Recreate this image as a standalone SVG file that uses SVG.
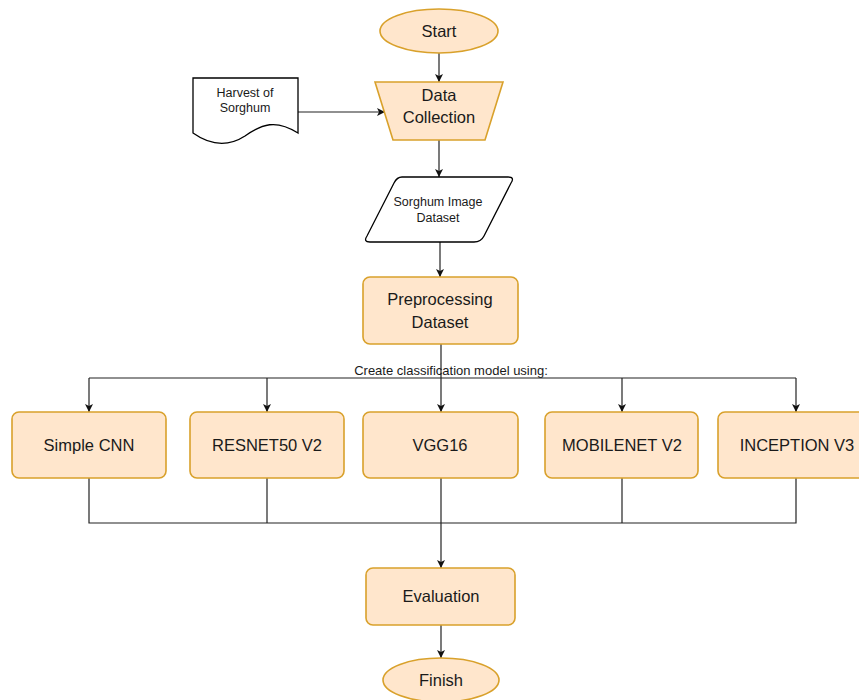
<svg xmlns="http://www.w3.org/2000/svg" width="859" height="700" viewBox="0 0 859 700">
<style>
.n{fill:#ffe6cc;stroke:#d9a12b;stroke-width:1.6}
.w{fill:#ffffff;stroke:#000000;stroke-width:1.3}
.t{font-family:"Liberation Sans",Arial,sans-serif;font-size:16.5px;fill:#1a1a1a;text-anchor:middle}
.s{font-family:"Liberation Sans",Arial,sans-serif;font-size:12.5px;fill:#1a1a1a;text-anchor:middle}
.c{fill:none;stroke:#222222;stroke-width:1.2}
</style>
<defs>
<marker id="a" viewBox="0 0 10 10" refX="10" refY="5" markerWidth="8" markerHeight="8" markerUnits="userSpaceOnUse" orient="auto">
<path d="M0,0 L10,5 L0,10 L2.5,5 Z" fill="#111111"/>
</marker>
</defs>
<rect width="859" height="700" fill="#ffffff"/>
<g id="connectors">
<path class="c" d="M439,53 V82" marker-end="url(#a)"/>
<path class="c" d="M298,112 H385" marker-end="url(#a)"/>
<path class="c" d="M439,140 V177" marker-end="url(#a)"/>
<path class="c" d="M440,242 V277" marker-end="url(#a)"/>
<path class="c" d="M441,344 V412" marker-end="url(#a)"/>
<path class="c" d="M89,378 H796"/>
<path class="c" d="M89,378 V412" marker-end="url(#a)"/>
<path class="c" d="M267,378 V412" marker-end="url(#a)"/>
<path class="c" d="M622,378 V412" marker-end="url(#a)"/>
<path class="c" d="M796,378 V412" marker-end="url(#a)"/>
<path class="c" d="M89,478 V523 H796 V478"/>
<path class="c" d="M267,478 V523"/>
<path class="c" d="M622,478 V523"/>
<path class="c" d="M441,478 V568" marker-end="url(#a)"/>
<path class="c" d="M441,625 V658" marker-end="url(#a)"/>
<text x="451" y="375" style="font-family:'Liberation Sans',Arial,sans-serif;font-size:13px;fill:#1a1a1a;text-anchor:middle">Create classification model using:</text>
</g>
<g id="start">
<ellipse class="n" cx="439" cy="31" rx="59" ry="22"/>
<text class="t" x="439" y="37">Start</text>
</g>
<g id="harvest">
<path class="w" d="M193,78 H298 V133 C276,119 262,124 245,136 C228,147 210,145 193,133 Z"/>
<text class="s" x="245" y="97">Harvest of</text>
<text class="s" x="245" y="112">Sorghum</text>
</g>
<g id="datacollection">
<path class="n" d="M375,82 H503 L485,140 H393 Z"/>
<text class="t" x="439" y="101">Data</text>
<text class="t" x="439" y="123">Collection</text>
</g>
<g id="dataset">
<path class="w" d="M402,177 H508 Q515,177 511,183 L484,236 Q481,242 474,242 H370 Q363,242 367,236 L394,183 Q397,177 402,177 Z"/>
<text class="s" x="438" y="206">Sorghum Image</text>
<text class="s" x="438" y="222">Dataset</text>
</g>
<g id="preprocessing">
<rect class="n" x="363" y="277" width="155" height="67" rx="7"/>
<text class="t" x="440" y="305">Preprocessing</text>
<text class="t" x="440" y="328">Dataset</text>
</g>
<g id="simplecnn">
<rect class="n" x="12" y="412" width="154" height="66" rx="7"/>
<text class="t" x="89" y="451">Simple CNN</text>
</g>
<g id="resnet">
<rect class="n" x="190" y="412" width="154" height="66" rx="7"/>
<text class="t" x="267" y="451">RESNET50 V2</text>
</g>
<g id="vgg16">
<rect class="n" x="363" y="412" width="155" height="66" rx="7"/>
<text class="t" x="440" y="451">VGG16</text>
</g>
<g id="mobilenet">
<rect class="n" x="545" y="412" width="153" height="66" rx="7"/>
<text class="t" x="622" y="451">MOBILENET V2</text>
</g>
<g id="inception">
<rect class="n" x="718" y="412" width="158" height="66" rx="7"/>
<text class="t" x="797" y="451">INCEPTION V3</text>
</g>
<g id="evaluation">
<rect class="n" x="366" y="568" width="149" height="57" rx="7"/>
<text class="t" x="441" y="602">Evaluation</text>
</g>
<g id="finish">
<ellipse class="n" cx="441" cy="680" rx="58" ry="22"/>
<text class="t" x="441" y="686">Finish</text>
</g>
</svg>
